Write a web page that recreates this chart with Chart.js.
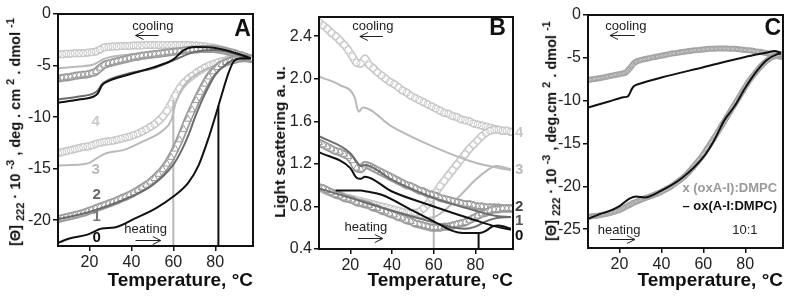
<!DOCTYPE html>
<html>
<head>
<meta charset="utf-8">
<script src="https://cdn.jsdelivr.net/npm/chart.js@4.4.0/dist/chart.umd.min.js"></script>
<style>
  body { margin: 0; background: #fff; }
  #wrap { position: relative; width: 800px; height: 296px; overflow: hidden; font-family: "Liberation Sans", Arial, sans-serif; }
  canvas { position: absolute; top: 0; }
  .ytitle { position: absolute; white-space: nowrap; font-weight: bold; font-size: 14.5px; color: #111;
            transform: translate(-50%, -50%) rotate(-90deg); }
  .ytitle sub, .ytitle sup { font-size: 11px; }
</style>
</head>
<body>
<div id="wrap">
  <canvas id="cA" width="270" height="296" style="left:0"></canvas>
  <canvas id="cB" width="270" height="296" style="left:270px"></canvas>
  <canvas id="cC" width="260" height="296" style="left:540px"></canvas>
  <div class="ytitle" style="left:15px;top:132px">[&Theta;] <sub>222</sub> &middot; 10 <sup>-3</sup> , deg . cm <sup>2</sup> . dmol <sup>-1</sup></div>
  <div class="ytitle" style="left:280px;top:142px;font-size:15.5px">Light scattering a. u.</div>
  <div class="ytitle" style="left:551px;top:131px">[&Theta;] <sub>222</sub> &middot; 10 <sup>-3</sup> , deg.cm <sup>2</sup> . dmol <sup>-1</sup></div>
</div>
<script>
Chart.defaults.font.family = '"Liberation Sans", Arial, sans-serif';

// temperature grid of the marker series (deg C)
const gridT = [5,7,9,11,13,15,17,19,21,23,25,27,29,31,33,35,37,39,41,43,45,47,49,51,53,55,57,59,61,63,65,67,69,71,73,75,77,79,81,83,85,87,89,91,93,95,97];
const xTicks = [20, 40, 60, 80];

// ---- panel A: ellipticity, 0..4 ----
const aCirHeat = [-13.5,-13.4,-13.3,-13.2,-13.1,-13.0,-12.9,-12.85,-12.75,-12.6,
  -12.5,-12.4,-12.35,-12.3,-12.2,-12.1,-12.0,-11.9,-11.75,-11.6,
  -11.4,-11.2,-10.95,-10.7,-10.35,-9.95,-9.4,-8.7,-7.9,-7.2,
  -6.7,-6.3,-6.0,-5.7,-5.45,-5.2,-5.0,-4.85,-4.7,-4.6,
  -4.5,-4.4,-4.35,-4.3,-4.3,-4.3,-4.35];
const aCirCool = [-3.9,-3.9,-3.85,-3.85,-3.8,-3.8,-3.8,-3.75,-3.7,-3.65,
  -3.45,-3.25,-3.2,-3.15,-3.15,-3.1,-3.1,-3.1,-3.05,-3.05,
  -3.05,-3.0,-3.0,-3.0,-3.0,-3.0,-3.0,-3.0,-3.0,-3.0,
  -3.0,-3.0,-3.05,-3.05,-3.1,-3.15,-3.2,-3.25,-3.35,-3.45,
  -3.55,-3.7,-3.8,-3.95,-4.05,-4.2,-4.35];
const aTriHeat = [-19.9,-19.8,-19.7,-19.6,-19.5,-19.4,-19.3,-19.15,-19.0,-18.85,
  -18.7,-18.55,-18.4,-18.25,-18.1,-17.9,-17.75,-17.55,-17.35,-17.1,
  -16.85,-16.6,-16.3,-15.95,-15.55,-15.1,-14.55,-13.9,-13.1,-12.2,
  -11.2,-10.2,-9.3,-8.4,-7.6,-6.8,-6.1,-5.6,-5.2,-4.9,
  -4.7,-4.55,-4.45,-4.35,-4.3,-4.3,-4.35];
const aTriCool = [-6.25,-6.2,-6.15,-6.1,-6.0,-5.95,-5.9,-5.85,-5.75,-5.6,
  -5.25,-4.95,-4.8,-4.7,-4.6,-4.5,-4.4,-4.3,-4.2,-4.15,
  -4.05,-4.0,-3.95,-3.9,-3.85,-3.8,-3.75,-3.7,-3.65,-3.6,
  -3.55,-3.5,-3.45,-3.45,-3.4,-3.4,-3.4,-3.4,-3.45,-3.5,
  -3.6,-3.7,-3.8,-3.95,-4.05,-4.2,-4.35];
const aL0Heat = [[5,-22.2],[10,-21.8],[19,-21.4],[26,-20.8],[32,-20.7],[42,-19.8],[52,-18.8],[60,-17.7],[67,-16.4],[72,-14.7],[77,-11.9],[80.5,-9.6],[84,-7.2],[86,-5.9],[88.5,-4.7],[92,-4.3],[97,-4.3]];
const aL0Cool = [[5,-8.6],[15,-8.3],[22,-8.0],[24,-7.7],[26,-6.9],[28,-6.6],[40,-5.8],[50,-5.2],[60,-4.4],[65,-3.5],[70,-3.2],[80,-3.3],[90,-3.8],[97,-4.3]];
const aL1Heat = [[5,-19.9],[20,-19.2],[40,-17.7],[50,-16.6],[60,-14.6],[64,-13.2],[67.5,-11.6],[70,-10.2],[75,-7.8],[80,-5.9],[85,-4.9],[90,-4.4],[97,-4.35]];
const aL1Cool = [[5,-8.3],[15,-8.0],[22,-7.7],[24,-7.4],[26,-6.8],[28,-6.5],[40,-5.7],[50,-5.3],[60,-4.5],[70,-3.7],[80,-3.5],[90,-3.9],[97,-4.35]];
const aL3Heat = [[5,-14.7],[19,-14.5],[25,-13.8],[28,-13.5],[36,-13.2],[45,-12.4],[55,-11.3],[59,-10.3],[61,-8.7],[64,-7.3],[67,-6.5],[70,-6.0],[75,-5.4],[80,-5.0],[85,-4.6],[90,-4.4],[97,-4.35]];
const aL3Cool = [[5,-5.25],[15,-5.1],[22,-4.9],[24,-4.7],[27,-4.35],[32,-4.1],[40,-3.9],[50,-3.7],[60,-3.6],[70,-3.5],[80,-3.5],[90,-3.9],[97,-4.35]];
const aMark60 = [[60,-22.5],[60,-8.3]];
const aMark81 = [[81.5,-22.5],[81.5,-8.9]];

// ---- panel B: light scattering ----
const bCirCool = [2.53,2.50,2.47,2.43,2.40,2.36,2.32,2.27,2.21,2.15,
  2.14,2.19,2.13,2.10,2.06,2.03,2.00,1.97,1.95,1.92,
  1.89,1.87,1.84,1.82,1.80,1.78,1.76,1.74,1.72,1.70,
  1.68,1.67,1.65,1.64,1.62,1.61,1.60,1.58,1.57,1.56,
  1.55,1.54,1.53,1.52,1.51,1.51,1.50];
const bCirHeat = [0.98,0.96,0.94,0.93,0.92,0.91,0.89,0.88,0.87,0.86,
  0.85,0.84,0.83,0.82,0.81,0.80,0.79,0.78,0.77,0.76,
  0.75,0.74,0.74,0.74,0.75,0.78,0.82,0.88,0.93,0.99,
  1.04,1.09,1.14,1.19,1.24,1.29,1.34,1.38,1.42,1.46,
  1.49,1.51,1.52,1.52,1.51,1.51,1.50];
const bTriCool = [1.40,1.38,1.36,1.34,1.32,1.31,1.29,1.27,1.23,1.16,
  1.15,1.19,1.18,1.16,1.14,1.12,1.10,1.08,1.06,1.04,
  1.02,1.00,0.99,0.97,0.95,0.94,0.92,0.91,0.90,0.88,
  0.87,0.86,0.85,0.84,0.83,0.82,0.82,0.81,0.80,0.80,
  0.79,0.79,0.79,0.79,0.78,0.78,0.78];
const bTriHeat = [0.98,0.97,0.95,0.93,0.91,0.90,0.88,0.87,0.86,0.84,
  0.83,0.82,0.81,0.79,0.78,0.76,0.75,0.73,0.72,0.70,
  0.69,0.67,0.66,0.64,0.63,0.62,0.61,0.60,0.60,0.60,
  0.61,0.61,0.62,0.63,0.64,0.65,0.67,0.69,0.71,0.73,
  0.74,0.76,0.77,0.77,0.78,0.78,0.78];
const bL0Cool = [[5,1.31],[20,1.16],[23,1.07],[25,1.06],[27,1.08],[40,0.94],[60,0.80],[80,0.67],[90,0.61],[97,0.58]];
const bL0Heat = [[13,0.95],[25,0.95],[28,0.94],[35,0.91],[50,0.76],[60,0.66],[69,0.57],[74,0.55],[82,0.55],[85,0.57],[88,0.61],[91,0.62],[97,0.59]];
const bL1Cool = [[5,1.46],[20,1.30],[23,1.22],[25,1.18],[27,1.19],[40,1.05],[60,0.88],[80,0.76],[90,0.71],[97,0.70]];
const bL1Heat = [[5,0.97],[20,0.88],[40,0.76],[60,0.65],[70,0.60],[75,0.59],[80,0.61],[85,0.66],[90,0.69],[97,0.70]];
const bL3Cool = [[5,2.02],[15,1.94],[22,1.83],[24,1.69],[26,1.73],[40,1.55],[60,1.36],[80,1.21],[97,1.14]];
const bL3Heat = [[5,0.96],[20,0.88],[40,0.76],[50,0.71],[55,0.69],[60,0.70],[65,0.76],[70,0.85],[75,0.95],[80,1.05],[85,1.13],[90,1.18],[97,1.15]];
const bMark60 = [[60,0.4],[60,0.9]];
const bMark81 = [[81.5,0.4],[81.5,0.55]];

// ---- panel C: oxidised A-I ----
const cGreyCool = [-7.6,-7.5,-7.45,-7.35,-7.25,-7.15,-7.05,-6.95,-6.85,-6.7,
  -6.2,-5.6,-5.35,-5.2,-5.1,-5.0,-4.9,-4.8,-4.7,-4.6,
  -4.5,-4.45,-4.35,-4.3,-4.2,-4.15,-4.1,-4.05,-4.0,-3.95,
  -3.95,-3.9,-3.9,-3.9,-3.95,-3.95,-4.0,-4.05,-4.1,-4.15,
  -4.25,-4.3,-4.4,-4.5,-4.6,-4.75,-4.9];
const cGreyHeat = [-23.6,-23.5,-23.45,-23.35,-23.25,-23.15,-23.0,-22.85,-22.65,-22.4,
  -22.15,-21.9,-21.7,-21.5,-21.3,-21.15,-20.95,-20.75,-20.5,-20.25,
  -19.95,-19.6,-19.25,-18.85,-18.35,-17.8,-17.2,-16.6,-15.9,-15.15,
  -14.4,-13.6,-12.8,-12.0,-11.2,-10.4,-9.6,-8.8,-8.0,-7.3,
  -6.7,-6.1,-5.6,-5.2,-4.9,-4.7,-4.6];
const cBlackHeat = [[5,-23.8],[10,-23.3],[15,-22.9],[20,-22.3],[25,-21.4],[28,-21.2],[32,-21.3],[40,-20.5],[50,-19.0],[60,-16.6],[65,-14.7],[70,-12.3],[75,-10.6],[80,-8.5],[85,-6.7],[90,-5.3],[95,-4.6],[97,-4.5]];
const cBlackCool = [[5,-10.8],[15,-10.1],[22,-9.6],[24,-9.5],[26,-8.6],[27,-8.3],[30,-8.0],[40,-7.3],[60,-6.1],[80,-4.9],[90,-4.4],[94,-4.2],[97,-4.4]];

const LIGHT = '#c9c9c9', PALE = '#b9b9b9', MID = '#9c9c9c', DARK = '#6c6c6c', BLACK = '#111';

const line = (pts, color, w) => ({
  data: pts.map(([x, y]) => ({x, y})), showLine: true, borderColor: color, borderWidth: w || 2,
  pointRadius: 0, cubicInterpolationMode: 'monotone', fill: false
});
const mark = (pts, color) => ({
  data: pts.map(([x, y]) => ({x, y})), showLine: true, borderColor: color, borderWidth: 2, pointRadius: 0, tension: 0
});
// dense marker series: the markers on top of a hollow band that stands in for the overlap
function band(vals, style, edge, r, outerW, innerW, innerColor) {
  const pts = vals.map((y, i) => ({x: gridT[i], y}));
  const stroke = (color, w) => ({
    data: pts, showLine: true, borderColor: color, borderWidth: w, pointRadius: 0,
    cubicInterpolationMode: 'monotone', borderCapStyle: 'round', borderJoinStyle: 'round'
  });
  return [
    {data: pts, showLine: false, pointStyle: style, pointRadius: r, borderColor: edge,
     backgroundColor: 'rgba(0,0,0,0)', pointBorderWidth: 1},
    stroke(innerColor || '#fff', innerW),
    stroke(edge, outerW)
  ];
}

const framePlugin = {
  id: 'frame',
  afterDatasetsDraw(chart) {
    const {ctx, chartArea: a} = chart;
    ctx.save();
    ctx.strokeStyle = BLACK; ctx.lineWidth = 2;
    ctx.strokeRect(a.left, a.top, a.right - a.left, a.bottom - a.top);
    ctx.restore();
  }
};

function notesPlugin(notes) {
  return {
    id: 'notes',
    afterDraw(chart) {
      const {ctx, scales: {x, y}} = chart;
      ctx.save();
      ctx.textAlign = 'center'; ctx.textBaseline = 'middle';
      notes.texts.forEach(n => {
        ctx.font = n.font; ctx.fillStyle = n.color;
        ctx.fillText(n.text, x.getPixelForValue(n.x), y.getPixelForValue(n.y));
      });
      ctx.strokeStyle = '#222'; ctx.lineWidth = 1;
      notes.arrows.forEach(a => {
        const x1 = x.getPixelForValue(a.from), x2 = x.getPixelForValue(a.to), yy = Math.round(y.getPixelForValue(a.y)) + 0.5;
        const d = Math.sign(x2 - x1);
        ctx.beginPath();
        ctx.moveTo(x1, yy); ctx.lineTo(x2, yy);
        ctx.moveTo(x2 - d * 8, yy - 4); ctx.lineTo(x2, yy); ctx.lineTo(x2 - d * 8, yy + 4);
        ctx.stroke();
      });
      ctx.restore();
    }
  };
}

function makeChart(id, p) {
  return new Chart(document.getElementById(id), {
    type: 'scatter',
    data: {datasets: p.datasets},
    options: {
      responsive: false, animation: false,
      layout: {padding: p.padding},
      plugins: {legend: {display: false}, tooltip: {enabled: false}},
      scales: {
        x: {
          type: 'linear', min: 5, max: 98,
          afterBuildTicks: s => { s.ticks = xTicks.map(v => ({value: v})); },
          afterFit: s => { s.height = p.xh; },
          grid: {drawOnChartArea: false, tickLength: 5, tickColor: BLACK, lineWidth: 1.5},
          border: {display: false},
          ticks: {color: '#222', font: {size: 16}, padding: 2},
          title: {display: true, align: 'end', text: 'Temperature, °C', color: BLACK,
                  font: {size: 19, weight: 'bold'}, padding: {top: 0, bottom: 2}}
        },
        y: {
          type: 'linear', min: p.ymin, max: p.ymax,
          afterBuildTicks: s => { s.ticks = p.yTicks.map(v => ({value: v})); },
          afterFit: s => { s.width = 30; },
          grid: {drawOnChartArea: false, tickLength: 5, tickColor: BLACK, lineWidth: 1.5},
          border: {display: false},
          ticks: {color: '#222', font: {size: 16}, padding: 2, callback: p.fmt}
        }
      }
    },
    plugins: [framePlugin, notesPlugin(p.notes)]
  });
}

const smallFont = '13px "Liberation Sans", Arial, sans-serif';
const numFont = 'bold 15px "Liberation Sans", Arial, sans-serif';
const letterFont = 'bold 23px "Liberation Sans", Arial, sans-serif';

makeChart('cA', {
  padding: {left: 28, right: 17, top: 14, bottom: 2}, xh: 48,
  ymin: -22.5, ymax: 0, yTicks: [-20, -15, -10, -5, 0], fmt: v => String(v),
  datasets: [
    line(aL0Heat, BLACK), line(aL0Cool, BLACK), mark(aMark81, BLACK),
    line(aL1Heat, DARK), line(aL1Cool, DARK),
    ...band(aTriHeat, 'triangle', MID, 4, 8, 4.5), ...band(aTriCool, 'triangle', MID, 4, 8, 4.5),
    line(aL3Heat, PALE), line(aL3Cool, PALE), mark(aMark60, PALE),
    ...band(aCirHeat, 'circle', LIGHT, 3.5, 8, 5), ...band(aCirCool, 'circle', LIGHT, 3.5, 8, 5)
  ],
  notes: {
    texts: [
      {text: 'cooling', x: 50.2, y: -1.17, font: smallFont, color: '#222'},
      {text: 'heating', x: 46.8, y: -20.9, font: smallFont, color: '#222'},
      {text: 'A', x: 93, y: -1.55, font: letterFont, color: BLACK},
      {text: '4', x: 23, y: -10.5, font: numFont, color: LIGHT},
      {text: '3', x: 23, y: -15.1, font: numFont, color: PALE},
      {text: '2', x: 23.5, y: -17.5, font: numFont, color: '#666'},
      {text: '1', x: 23.5, y: -19.7, font: numFont, color: '#777'},
      {text: '0', x: 23.5, y: -21.7, font: numFont, color: BLACK}
    ],
    arrows: [{from: 53, to: 42, y: -2.04}, {from: 42, to: 54, y: -21.9}]
  }
});

makeChart('cB', {
  padding: {left: 19, right: 27, top: 17, bottom: 2}, xh: 45,
  ymin: 0.4, ymax: 2.58, yTicks: [0.4, 0.8, 1.2, 1.6, 2.0, 2.4], fmt: v => v.toFixed(1),
  datasets: [
    line(bL0Heat, BLACK), line(bL0Cool, BLACK), mark(bMark81, BLACK),
    line(bL1Heat, DARK), line(bL1Cool, DARK),
    ...band(bTriHeat, 'triangle', MID, 4, 8, 4.5), ...band(bTriCool, 'triangle', MID, 4, 8, 4.5),
    line(bL3Heat, PALE), line(bL3Cool, PALE), mark(bMark60, PALE),
    ...band(bCirHeat, 'circle', LIGHT, 3.5, 8, 5), ...band(bCirCool, 'circle', LIGHT, 3.5, 8, 5)
  ],
  notes: {
    texts: [
      {text: 'cooling', x: 30.8, y: 2.49, font: smallFont, color: '#222'},
      {text: 'heating', x: 27.5, y: 0.60, font: smallFont, color: '#222'},
      {text: 'B', x: 90.6, y: 2.47, font: letterFont, color: BLACK},
      {text: '4', x: 101, y: 1.49, font: numFont, color: LIGHT},
      {text: '3', x: 101, y: 1.14, font: numFont, color: PALE},
      {text: '2', x: 101, y: 0.80, font: numFont, color: '#444'},
      {text: '1', x: 101, y: 0.66, font: numFont, color: '#555'},
      {text: '0', x: 101, y: 0.52, font: numFont, color: BLACK}
    ],
    arrows: [{from: 35.6, to: 24.6, y: 2.40}, {from: 23.7, to: 35.6, y: 0.50}]
  }
});

makeChart('cC', {
  padding: {left: 18, right: 17, top: 15, bottom: 2}, xh: 46,
  ymin: -27.2, ymax: 0, yTicks: [-25, -20, -15, -10, -5, 0], fmt: v => String(v),
  datasets: [
    line(cBlackHeat, BLACK), line(cBlackCool, BLACK),
    ...band(cGreyHeat, 'crossRot', '#a4a4a4', 3, 6, 2.5, '#c4c4c4'),
    ...band(cGreyCool, 'crossRot', '#a4a4a4', 3, 6, 2.5, '#c4c4c4')
  ],
  notes: {
    texts: [
      {text: 'cooling', x: 23.1, y: -1.29, font: smallFont, color: '#222'},
      {text: 'heating', x: 19.8, y: -25.1, font: smallFont, color: '#222'},
      {text: 'C', x: 93.1, y: -1.64, font: letterFont, color: BLACK},
      {text: 'x (oxA-I):DMPC', x: 72.6, y: -20.3, font: 'bold 13px "Liberation Sans", Arial, sans-serif', color: '#999'},
      {text: '– ox(A-I:DMPC)', x: 72.6, y: -22.3, font: 'bold 13px "Liberation Sans", Arial, sans-serif', color: BLACK},
      {text: '10:1', x: 79.8, y: -25.2, font: smallFont, color: '#222'}
    ],
    arrows: [{from: 27.4, to: 15.5, y: -2.35}, {from: 15.5, to: 27.4, y: -26.2}]
  }
});
</script>
</body>
</html>
